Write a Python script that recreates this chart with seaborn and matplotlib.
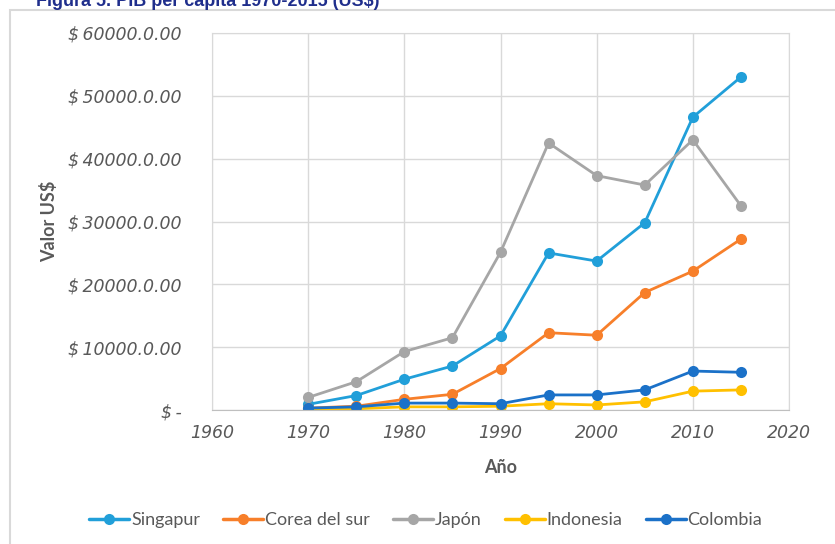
import pandas as pd
import numpy as np
import matplotlib.pyplot as plt
import seaborn as sns
from matplotlib.patches import Rectangle

# Data (PIB per capita, US$)
years = [1970, 1975, 1980, 1985, 1990, 1995, 2000, 2005, 2010, 2015]
singapur = [900, 2300, 4900, 7000, 11800, 25000, 23700, 29800, 46600, 53000]
corea = [300, 600, 1700, 2500, 6600, 12300, 11900, 18700, 22100, 27200]
japon = [2000, 4500, 9300, 11500, 25100, 42500, 37300, 35800, 43000, 32500]
indonesia = [100, 200, 500, 500, 600, 1000, 800, 1300, 3000, 3200]
colombia = [300, 500, 1100, 1100, 1000, 2400, 2400, 3200, 6200, 6000]

countries = ["Singapur", "Corea del sur", "Japón", "Indonesia", "Colombia"]
colors = ["#219FD9", "#F77F2A", "#A6A6A6", "#FFC000", "#1B71C8"]

df = pd.DataFrame({
    "Año": years * 5,
    "Valor": singapur + corea + japon + indonesia + colombia,
    "País": np.repeat(countries, len(years)),
})

sns.set_style("white")
plt.rcParams["font.family"] = ["DejaVu Sans"]

fig = plt.figure(figsize=(8.35, 5.44), dpi=100)
ax = fig.add_axes([212 / 835, 1 - 410 / 544, (789 - 212) / 835, (410 - 33) / 544])

sns.lineplot(data=df, x="Año", y="Valor", hue="País", palette=colors,
             marker="o", markersize=8, markeredgewidth=0, linewidth=2,
             ax=ax, legend=False)

ax.set_xlim(1960, 2020)
ax.set_ylim(0, 60000)
ax.set_xticks(range(1960, 2021, 10))
ax.set_yticks(range(0, 60001, 10000))
ax.set_yticklabels(["\\$\u2009-"] + [f"\\$\u2009{v}.0.00" for v in range(10000, 60001, 10000)])
ax.grid(True, color="#D9D9D9", linewidth=1)
for s in ["left", "top", "right"]:
    ax.spines[s].set_color("#D9D9D9")
ax.spines["bottom"].set_color("#BFBFBF")
ax.tick_params(axis="both", length=0, labelsize=12.5, labelcolor="#595959")
ax.tick_params(axis="y", pad=22)
ax.tick_params(axis="x", pad=10)
for lbl in ax.get_xticklabels() + ax.get_yticklabels():
    lbl.set_style("oblique")
lab = {"fontsize": 13, "color": "#595959", "fontweight": "bold",
       "family": ["Lato", "DejaVu Sans"]}
ax.set_xlabel("Año", labelpad=12, **lab)
ax.set_ylabel("Valor US\\$", labelpad=7, **lab)

# legend along the bottom
handles = [plt.Line2D([], [], color=c, marker="o", markersize=8, markeredgewidth=0,
                      linewidth=2.5) for c in colors]
fig.legend(handles, countries, loc="center", bbox_to_anchor=(0.51, 1 - 520 / 544),
           ncol=5, frameon=False, handlelength=2.2, handletextpad=0.1,
           columnspacing=1.3, labelcolor="#595959",
           prop={"family": ["Lato", "DejaVu Sans"], "size": 13})

# outer chart frame and clipped title
fig.add_artist(Rectangle((10 / 835, -0.05), 1.0, 1 - 10 / 544 + 0.05,
                         transform=fig.transFigure, fill=False,
                         edgecolor="#D9D9D9", linewidth=1.5))
fig.text(36 / 835, 1 - 6 / 544, "Figura 5. PIB per cápita 1970-2015 (US\\$)",
         fontsize=13, fontweight="bold", color="#1F2E8C", va="baseline",
         family=["Liberation Sans", "DejaVu Sans"])

fig.savefig("out.png", dpi=100)
